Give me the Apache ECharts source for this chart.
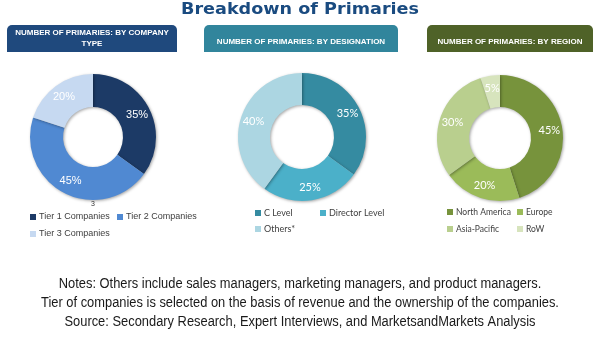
<!DOCTYPE html>
<html>
<head>
<meta charset="utf-8">
<title>Breakdown of Primaries</title>
<script src="https://cdn.jsdelivr.net/npm/echarts/dist/echarts.min.js"></script>
<style>
    html, body { margin: 0; padding: 0; background: #fff; }
    #chart { width: 600px; height: 340px; }
</style>
</head>
<body>
<div id="chart"></div>
<script>
    'use strict';

    // data
    var companyTypes   = ['Tier 1 Companies', 'Tier 2 Companies', 'Tier 3 Companies'];
    var companyShares  = [35, 45, 20];
    var designations   = ['C Level', 'Director Level', 'Others*'];
    var designationShares = [35, 25, 40];
    var regions        = ['North America', 'Europe', 'Asia-Pacific', 'RoW'];
    var regionShares   = [45, 20, 30, 5];

    var headers = [
        'NUMBER OF PRIMARIES: BY COMPANY\nTYPE',
        'NUMBER OF PRIMARIES: BY DESIGNATION',
        'NUMBER OF PRIMARIES: BY REGION'
    ];
    var notes = [
        'Notes: Others include sales managers, marketing managers, and product managers.',
        'Tier of companies is selected on the basis of revenue and the ownership of the companies.',
        'Source: Secondary Research, Expert Interviews, and MarketsandMarkets Analysis'
    ];

    var companyColors     = ['#1c3a66', '#5089d2', '#c6d9f1'];
    var designationColors = ['#358ba1', '#4bb0c9', '#acd6e2'];
    var regionColors      = ['#77933c', '#9bbb59', '#b9cf8e', '#d7e4bd'];

    var ARIAL = '"Liberation Sans", Arial, sans-serif';
    var CALI  = 'Lato, "Open Sans", sans-serif';

    var chart = echarts.init(document.getElementById('chart'));

    function toData(names, values) {
        return names.map(function (n, i) { return { name: n, value: values[i] }; });
    }

    function donut(names, values, colors, center, radius, font) {
        return {
            type: 'pie',
            center: center,
            radius: radius,
            startAngle: 90,
            clockwise: true,
            silent: true,
            color: colors,
            data: toData(names, values),
            itemStyle: {
                borderWidth: 0,
                shadowBlur: 3,
                shadowOffsetX: 1,
                shadowOffsetY: 1,
                shadowColor: 'rgba(0,0,0,0.35)'
            },
            label: {
                show: true,
                position: 'inside',
                formatter: '{c}%',
                color: '#fff',
                fontSize: 11,
                fontFamily: font
            },
            labelLine: { show: false },
            emphasis: { disabled: true }
        };
    }

    function legend(names, left, top, gap, font, size) {
        return {
            data: names,
            orient: 'vertical',
            left: left,
            top: top,
            padding: 0,
            itemGap: gap,
            itemWidth: 6,
            itemHeight: 6,
            icon: 'rect',
            selectedMode: false,
            textStyle: { color: '#404040', fontSize: size || 9, lineHeight: 11, fontFamily: font, padding: [0, 0, 0, -2] }
        };
    }

    // header boxes above each donut
    var boxes = [
        { x: 7,   w: 170, color: '#1f497d' },
        { x: 204, w: 194, color: '#31859c' },
        { x: 427, w: 166, color: '#4f6228' }
    ];
    var graphics = [];
    boxes.forEach(function (b, i) {
        graphics.push({
            type: 'rect',
            shape: { x: b.x, y: 25, width: b.w, height: 27, r: [5, 5, 0, 0] },
            style: { fill: b.color }
        });
        graphics.push({
            type: 'text',
            x: b.x + b.w / 2,
            y: i === 0 ? 38.5 : 42,
            style: {
                text: headers[i],
                fill: '#fff',
                font: 'bold 8px ' + ARIAL,
                lineHeight: 11,
                align: 'center',
                verticalAlign: 'middle'
            }
        });
    });

    // the little stray "3" under the first donut
    graphics.push({
        type: 'text', x: 93, y: 204,
        style: { text: '3', fill: '#333', font: '7px ' + ARIAL, align: 'center', verticalAlign: 'middle' }
    });

    // title, stretched a bit to stand in for the wide letter spacing
    graphics.push({
        type: 'text', x: 300, y: 10, scaleX: 1.1,
        style: {
            text: 'Breakdown of Primaries',
            fill: '#1a4b80',
            font: 'bold 16px "DejaVu Sans", Arial, sans-serif',
            align: 'center',
            verticalAlign: 'middle'
        }
    });

    // notes, narrowed like the condensed face in the picture
    notes.forEach(function (line, i) {
        graphics.push({
            type: 'text',
            x: 300,
            y: 284 + i * 19,
            scaleX: 0.92,
            style: {
                text: line,
                fill: '#1a1a1a',
                font: '14px ' + ARIAL,
                align: 'center',
                verticalAlign: 'middle'
            }
        });
    });

    var option = {
        animation: false,
        legend: [
            legend([companyTypes[0], companyTypes[2]], 30, 211.5, 6, ARIAL),
            legend([companyTypes[1]], 117, 211.5, 6, ARIAL),
            legend([designations[0], designations[2]], 255, 207.5, 5, CALI),
            legend([designations[1]], 320, 207.5, 5, CALI),
            legend([regions[0], regions[2]], 447, 206.5, 6, CALI, 8.5),
            legend([regions[1], regions[3]], 517, 206.5, 6, CALI, 8.5)
        ],
        graphic: graphics,
        series: [
            donut(companyTypes, companyShares, companyColors, [93, 137], [30, 63], ARIAL),
            donut(designations, designationShares, designationColors, [302, 137], [32, 64], CALI),
            donut(regions, regionShares, regionColors, [500, 138], [31, 63], CALI)
        ]
    };

    chart.setOption(option);
</script>
</body>
</html>
